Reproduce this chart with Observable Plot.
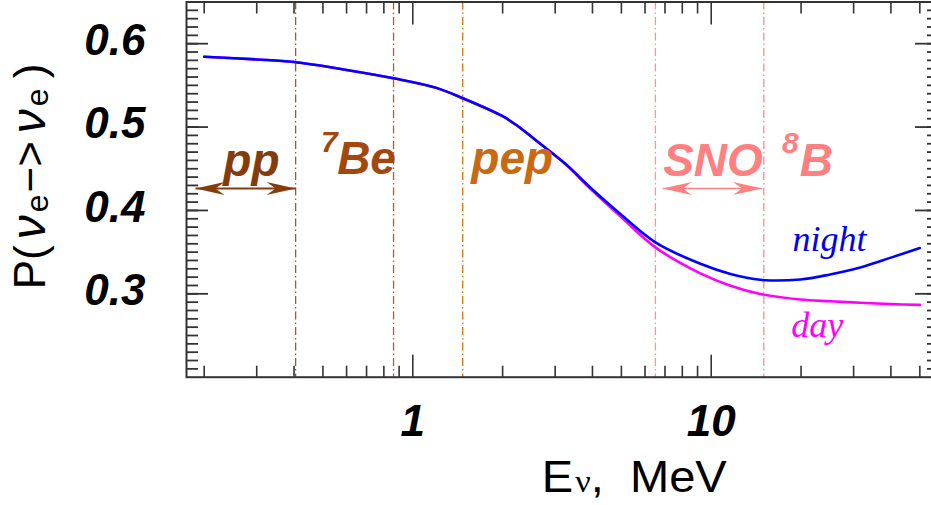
<!DOCTYPE html>
<html><head><meta charset="utf-8">
<script src="https://cdn.jsdelivr.net/npm/d3@7"></script>
<script src="https://cdn.jsdelivr.net/npm/@observablehq/plot@0.6"></script>
<style>
html,body{margin:0;padding:0;background:#fff;}
#chart svg{display:block;}
</style></head><body><div id="chart"></div>
<script>
// ---- data ----
const energy = [0.2, 0.3, 0.4, 0.6, 0.862, 1.2, 1.47, 2, 2.24, 2.7, 3.25, 3.94, 4.96, 6.5, 9.2, 11.6, 14.6, 19.9, 25, 31.6, 40, 50];
const pNight = [0.5844, 0.5811, 0.578, 0.5685, 0.5585, 0.547, 0.5346, 0.513, 0.5015, 0.4787, 0.4556, 0.4272, 0.3957, 0.3617, 0.336, 0.3238, 0.3168, 0.3172, 0.3232, 0.3317, 0.3434, 0.355];
const pDay   = [0.5844, 0.5811, 0.578, 0.5685, 0.5585, 0.547, 0.5346, 0.513, 0.5015, 0.4787, 0.4556, 0.426, 0.393, 0.3557, 0.3245, 0.3098, 0.2999, 0.2931, 0.2911, 0.2893, 0.2877, 0.2867];

// vertical energy markers
const lineE = [0.405, 0.862, 1.47, 6.5, 15];
const lineColors = ["#9c5a34", "#b85e22", "#d07414", "#ff9494", "#ff8a8a"];

// source labels
const labelText = ["pp", "Be", "pep", "SNO", "B"];
const labelE = [0.288, 0.70, 2.153, 10.14, 22.5];
const labelP = [0.4416, 0.4436, 0.4436, 0.4416, 0.4416];
const labelColors = ["#843c0c", "#a3470e", "#c96a12", "#ff8080", "#ff8080"];
const supText = ["7", "8"];
const supE = [0.525, 18.4];
const supP = [0.4705, 0.4685];
const supColors = ["#a3470e", "#ff8080"];

// double arrows
const arrowFrom = [0.187, 6.88];
const arrowTo = [0.405, 14.8];
const arrowP = [0.4264, 0.4264];
const arrowColors = ["#843c0c", "#ff8080"];
const arrowWidths = [2, 1.4];

// curve labels
const curveText = ["night", "day"];
const curveE = [24.9, 22.66];
const curveP = [0.3517, 0.2479];
const curveColors = ["#0000ee", "#ff00ff"];

// ticks
const xMajor = [1, 10];
const xMinor = [0.2, 0.3, 0.4, 0.5, 0.6, 0.7, 0.8, 0.9, 2, 3, 4, 5, 6, 7, 8, 9, 20, 30, 40, 50];
const yMajor = [0.3, 0.4, 0.5, 0.6];
const yMinor = d3.range(21, 65).map(d => d / 100);

// ---- tables built from the arrays ----
const night = energy.map((e, i) => ({E: e, P: pNight[i]}));
const day = energy.map((e, i) => ({E: e, P: pDay[i]}));
const idx2 = [0, 1];
const tips = [
  {E: arrowFrom[0], P: arrowP[0], r: 180, c: arrowColors[0]},
  {E: arrowTo[0], P: arrowP[0], r: 0, c: arrowColors[0]},
  {E: arrowFrom[1], P: arrowP[1], r: 180, c: arrowColors[1]},
  {E: arrowTo[1], P: arrowP[1], r: 0, c: arrowColors[1]}
];
const arrowHead = {draw(ctx) { ctx.moveTo(0, 0); ctx.lineTo(-29, -6.5); ctx.lineTo(-20, 0); ctx.lineTo(-29, 6.5); ctx.closePath(); }};

const SANS = "Liberation Sans, Arial, Helvetica, sans-serif";
const SERIF = "Liberation Serif, Times New Roman, serif";
const tickStroke = "#333";

const chart = Plot.plot({
  width: 931,
  height: 505,
  marginLeft: 186,
  marginRight: -6,
  marginTop: 1.5,
  marginBottom: 128.3,
  x: {type: "log", domain: [0.1745, 57.3]},
  y: {domain: [0.2, 0.65]},
  color: {type: "identity"},
  marks: [
    // vertical dash-dot markers
    Plot.ruleX(lineE, {x: d => d, stroke: (d, i) => lineColors[i], strokeWidth: 1.3, strokeDasharray: "8,3,1.5,3"}),
    // curves
    Plot.line(day, {x: "E", y: "P", stroke: "#ff00ff", strokeWidth: 2.6, curve: "catmull-rom"}),
    Plot.line(night, {x: "E", y: "P", stroke: "#0000ff", strokeWidth: 2.6, curve: "catmull-rom"}),
    // double arrows
    Plot.link(idx2, {x1: i => arrowFrom[i], x2: i => arrowTo[i], y1: i => arrowP[i], y2: i => arrowP[i], stroke: i => arrowColors[i], strokeWidth: i => arrowWidths[i]}),
    Plot.dot(tips, {x: "E", y: "P", rotate: "r", fill: "c", stroke: null, symbol: arrowHead}),
    // labels
    Plot.text(labelText, {x: (d, i) => labelE[i], y: (d, i) => labelP[i], text: d => d, fill: (d, i) => labelColors[i], fontSize: 46, fontWeight: "bold", fontStyle: "italic", fontFamily: SANS, lineAnchor: "bottom", textAnchor: "middle"}),
    Plot.text(supText, {x: (d, i) => supE[i], y: (d, i) => supP[i], text: d => d, fill: (d, i) => supColors[i], fontSize: 30, fontWeight: "bold", fontStyle: "italic", fontFamily: SANS, lineAnchor: "bottom", textAnchor: "middle"}),
    Plot.text(curveText, {x: (d, i) => curveE[i], y: (d, i) => curveP[i], text: d => d, fill: (d, i) => curveColors[i], fontSize: 36, fontStyle: "italic", fontFamily: SERIF, lineAnchor: "bottom", textAnchor: "middle"}),
    // ticks (inward, mirrored)
    Plot.axisX(xMinor, {anchor: "bottom", tickSize: -11, stroke: tickStroke, strokeWidth: 1.6, fill: "none", label: null}),
    Plot.axisX(xMajor, {anchor: "bottom", tickSize: -22, stroke: tickStroke, strokeWidth: 1.6, fill: "none", label: null}),
    Plot.axisX(xMinor, {anchor: "top", tickSize: -11, stroke: tickStroke, strokeWidth: 1.6, fill: "none", label: null}),
    Plot.axisX(xMajor, {anchor: "top", tickSize: -22, stroke: tickStroke, strokeWidth: 1.6, fill: "none", label: null}),
    Plot.axisY(yMinor, {anchor: "left", tickSize: -12, stroke: tickStroke, strokeWidth: 1.8, fill: "none", label: null}),
    Plot.axisY(yMajor, {anchor: "left", tickSize: -22, stroke: tickStroke, strokeWidth: 1.8, fill: "none", label: null}),
    Plot.axisY(yMinor, {anchor: "right", tickSize: -11, stroke: tickStroke, strokeWidth: 1.8, fill: "none", label: null}),
    Plot.axisY(yMajor, {anchor: "right", tickSize: -23, stroke: tickStroke, strokeWidth: 1.8, fill: "none", label: null}),
    // tick labels
    Plot.axisX(xMajor, {anchor: "bottom", tickSize: 0, tickPadding: 28, fill: "#000", fontSize: 44, fontWeight: "bold", fontStyle: "italic", fontFamily: SANS, tickFormat: d => String(d), label: null}),
    Plot.axisY(yMajor, {anchor: "left", tickSize: 0, tickPadding: 41, dy: -3, fill: "#000", fontSize: 44, fontWeight: "bold", fontStyle: "italic", fontFamily: SANS, tickFormat: d => d.toFixed(1), label: null}),
    Plot.frame({stroke: tickStroke, strokeWidth: 2})
  ]
});

document.getElementById("chart").append(chart);

// axis titles with sub-scripted Greek letters
const svg = d3.select(chart);
const yl = svg.append("text")
  .attr("transform", "translate(45,176.5) rotate(-90)")
  .attr("text-anchor", "middle")
  .attr("font-family", SANS)
  .attr("font-size", 44)
  .attr("fill", "#000");
yl.append("tspan").text("P(");
yl.append("tspan").attr("dx", 6).attr("font-style", "italic").attr("font-size", 48).text("ν");
yl.append("tspan").attr("font-size", 32).attr("dy", 3).attr("dx", 3).text("e");
yl.append("tspan").attr("dy", -3).attr("dx", 2).text("−>");
yl.append("tspan").attr("dx", 8).attr("font-style", "italic").attr("font-size", 48).text("ν");
yl.append("tspan").attr("font-size", 32).attr("dy", 3).attr("dx", 3).text("e");
yl.append("tspan").attr("dy", -3).attr("dx", 10).text(")");

const xl = svg.append("text")
  .attr("transform", "translate(541.7,491.7) scale(1.07,1)")
  .attr("text-anchor", "start")
  .attr("font-family", SANS)
  .attr("font-size", 44)
  .attr("fill", "#000")
  .style("white-space", "pre");
xl.append("tspan").text("E");
xl.append("tspan").attr("dx", 2).attr("font-family", SERIF).attr("font-size", 32).text("ν");
xl.append("tspan").text(",  MeV");
</script>
</body></html>
